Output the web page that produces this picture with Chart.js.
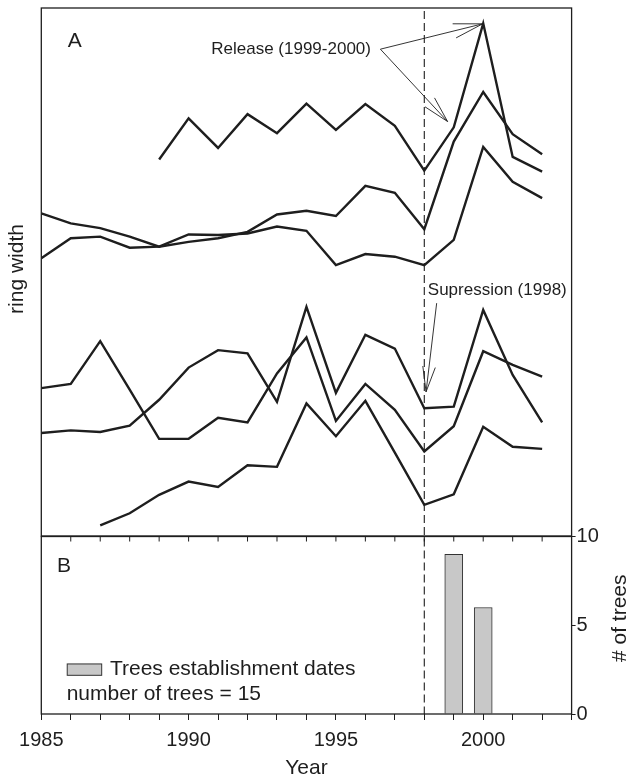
<!DOCTYPE html>
<html><head><meta charset="utf-8">
<script src="https://cdn.jsdelivr.net/npm/chart.js@4.4.0/dist/chart.umd.min.js"></script>
<style>
html,body{margin:0;padding:0;background:#fff;width:629px;height:781px;overflow:hidden;}
#wrap{position:relative;width:629px;height:781px;background:#fff;}
canvas{position:absolute;left:0;}
#ca{top:0;} #cb{top:520px;}
</style></head><body>
<div id="wrap"><canvas id="ca" width="629" height="540"></canvas><canvas id="cb" width="629" height="261"></canvas></div>
<script>
// ---- data (ring width index, unitless) ----
const years = [1985,1986,1987,1988,1989,1990,1991,1992,1993,1994,1995,1996,1997,1998,1999,2000,2001,2002];
const tree1 = [null,null,null,null,71.3,79.1,73.5,79.9,76.3,81.9,76.9,81.8,77.7,69.2,77.4,97.1,71.8,69.0];
const tree2 = [61.1,59.2,58.3,56.7,54.8,55.7,56.4,57.6,60.9,61.6,60.6,66.3,65.0,58.1,74.7,84.1,76.1,72.3];
const tree3 = [52.6,56.4,56.7,54.6,54.8,57.1,57.0,57.3,58.6,57.8,51.3,53.4,52.9,51.3,56.1,73.7,67.1,64.0];
const tree4 = [28.0,28.8,36.9,27.7,18.4,18.4,22.4,21.5,30.8,37.6,21.8,28.8,23.9,16.0,20.8,35.0,32.4,30.2];
const tree5 = [19.5,20.0,19.7,20.9,25.8,31.9,35.2,34.6,25.4,43.4,27.1,38.1,35.5,24.2,24.5,42.8,30.5,21.5];
const tree6 = [null,null,2.0,4.3,7.8,10.3,9.3,13.4,13.1,25.1,18.9,25.6,15.8,5.9,7.9,20.7,16.9,16.5];
const estYears = [1999, 2000];
const estCounts = [9, 6];
const suppressionYear = 1998;
const xTickLabels = [1985, 1990, 1995, 2000];
const countTicks = [0, 5, 10];

const INK = '#1e1e1e';
const FONT = '"Liberation Sans", Arial, Helvetica, sans-serif';

function pts(arr){ return years.map((yr,i)=>({x:yr, y:arr[i]})); }
function arrow(ctx,x0,y0,x1,y1,len,ang){
  ctx.beginPath(); ctx.moveTo(x0,y0); ctx.lineTo(x1,y1);
  const a = Math.atan2(y0-y1, x0-x1);
  ctx.moveTo(x1+len*Math.cos(a+ang), y1+len*Math.sin(a+ang));
  ctx.lineTo(x1,y1);
  ctx.lineTo(x1+len*Math.cos(a-ang), y1+len*Math.sin(a-ang));
  ctx.stroke();
}

const seriesA = [tree1,tree2,tree3,tree4,tree5,tree6];

const panelA = {
  id:'panelA',
  afterDraw(chart){
    const ctx = chart.ctx, ca = chart.chartArea, X = chart.scales.x, Y = chart.scales.y;
    const px = (v)=>X.getPixelForValue(v), py=(v)=>Y.getPixelForValue(v);
    ctx.save();
    ctx.strokeStyle = INK; ctx.lineWidth = 1.3;
    ctx.strokeRect(ca.left, ca.top, ca.right-ca.left, ca.bottom-ca.top);
    // dashed suppression line
    ctx.setLineDash([8,4]); ctx.lineWidth = 1.1;
    ctx.beginPath(); ctx.moveTo(px(suppressionYear), ca.top+3); ctx.lineTo(px(suppressionYear), ca.bottom); ctx.stroke();
    ctx.setLineDash([]);
    // texts
    ctx.fillStyle = INK; ctx.textBaseline = 'alphabetic';
    ctx.font = '21px '+FONT; ctx.textAlign='left';
    ctx.fillText('A', px(1985.9), py(92.6));
    ctx.font = '17px '+FONT;
    ctx.textAlign='right';
    ctx.fillText('Release (1999-2000)', px(1996.19), py(91.3));
    ctx.textAlign='left';
    ctx.fillText('Supression (1998)', px(1998.12), py(45.6));
    // arrows
    ctx.lineWidth = 0.9; ctx.strokeStyle = INK;
    const ang = 14*Math.PI/180;
    arrow(ctx, px(1996.51), py(92.2), px(1999.98), py(97.0), 30, ang);
    arrow(ctx, px(1996.51), py(92.2), px(1998.79), py(78.5), 27, ang);
    arrow(ctx, px(1998.42), py(44.1), px(1998.06), py(27.3), 26, ang);
    // y title
    ctx.save();
    ctx.translate(ca.left-24, (ca.top+ca.bottom)/2-3);
    ctx.rotate(-Math.PI/2);
    ctx.font = '21px '+FONT; ctx.textAlign='center'; ctx.textBaseline='middle';
    ctx.fillText('ring width', 0, 0);
    ctx.restore();
    ctx.restore();
  }
};

new Chart(document.getElementById('ca'), {
  type:'line',
  data:{ datasets: seriesA.map(s=>({data:pts(s), borderColor:INK, borderWidth:2.4, pointRadius:0, tension:0, fill:false, spanGaps:false})) },
  options:{
    responsive:false, animation:false, devicePixelRatio:1,
    layout:{padding:{left:41.3, right:57.4, top:8, bottom:4}},
    plugins:{legend:{display:false}, tooltip:{enabled:false}},
    scales:{
      x:{type:'linear', min:1985, max:2003, display:false},
      y:{type:'linear', min:0, max:100, display:false}
    }
  },
  plugins:[panelA]
});

const panelB = {
  id:'panelB',
  afterDraw(chart){
    const ctx = chart.ctx, ca = chart.chartArea, X = chart.scales.x, Y = chart.scales.y;
    const px = (v)=>X.getPixelForValue(v), py=(v)=>Y.getPixelForValue(v);
    ctx.save();
    ctx.strokeStyle = INK; ctx.lineWidth = 1.3;
    ctx.strokeRect(ca.left, ca.top, ca.right-ca.left, ca.bottom-ca.top);
    // inner ticks on top edge
    ctx.lineWidth = 1;
    ctx.beginPath();
    for (let yr=1986; yr<2003; yr++){ ctx.moveTo(px(yr), ca.top); ctx.lineTo(px(yr), ca.top+5); }
    ctx.stroke();
    // dashed line
    ctx.setLineDash([8,4]); ctx.lineWidth = 1.1;
    ctx.beginPath(); ctx.moveTo(px(suppressionYear), ca.top+2); ctx.lineTo(px(suppressionYear), ca.bottom); ctx.stroke();
    ctx.setLineDash([]);
    // panel letter
    ctx.fillStyle = INK;
    ctx.font = '21px '+FONT; ctx.textAlign='left'; ctx.textBaseline='alphabetic';
    ctx.fillText('B', px(1985.53), py(8.02));
    // legend
    const bx0 = px(1985.88), bx1 = px(1987.05), by0 = py(2.82), by1 = py(2.18);
    ctx.fillStyle = '#c8c8c8'; ctx.fillRect(bx0, by0, bx1-bx0, by1-by0);
    ctx.strokeStyle = '#333'; ctx.lineWidth = 1; ctx.strokeRect(bx0, by0, bx1-bx0, by1-by0);
    ctx.fillStyle = INK;
    ctx.fillText('Trees establishment dates', px(1987.33), py(2.2));
    ctx.fillText('number of trees = 15', px(1985.86), py(0.79));
    // right title
    ctx.save();
    ctx.translate(620, (ca.top+ca.bottom)/2-7);
    ctx.rotate(-Math.PI/2);
    ctx.textAlign='center'; ctx.textBaseline='middle';
    ctx.fillText('# of trees', 0, 0);
    ctx.restore();
    ctx.restore();
  }
};

new Chart(document.getElementById('cb'), {
  type:'bar',
  data:{ datasets:[{ data: estYears.map((yr,i)=>({x:yr, y:estCounts[i]})), backgroundColor:'#c8c8c8', borderColor:'#333', borderWidth:1, barThickness:18 }] },
  options:{
    responsive:false, animation:false, devicePixelRatio:1,
    layout:{padding:{left:41.3, right:0, top:16.5, bottom:0}},
    plugins:{legend:{display:false}, tooltip:{enabled:false}},
    scales:{
      x:{type:'linear', min:1985, max:2003, offset:false,
         afterFit(s){ s.height = 67; },
         grid:{display:true, drawOnChartArea:false, drawTicks:true, tickLength:6, color:INK, lineWidth:1, offset:false},
         border:{display:false},
         ticks:{stepSize:1, autoSkip:false, maxRotation:0, padding:8, color:INK, font:{family:FONT, size:20},
                callback:(v)=> xTickLabels.includes(v) ? String(v) : ''},
         title:{display:true, text:'Year', color:INK, font:{family:FONT, size:21}, padding:{top:0,bottom:0}}
      },
      y:{type:'linear', position:'right', min:0, max:10,
         afterFit(s){ s.width = 57.4; },
         grid:{display:true, drawOnChartArea:false, drawTicks:true, tickLength:4, color:INK, lineWidth:1},
         border:{display:false},
         afterBuildTicks(s){ s.ticks = countTicks.map(v=>({value:v})); },
         ticks:{padding:1, color:INK, font:{family:FONT, size:20}, callback:(v)=>String(v)}
      }
    }
  },
  plugins:[panelB]
});
</script>
</body></html>
